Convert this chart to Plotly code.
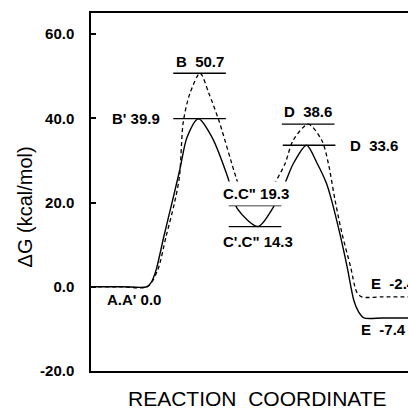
import plotly.graph_objects as go

# Reaction coordinate (arbitrary units 0-100) and free energy (kcal/mol)
unprimed_x = [0, 10, 17.8, 21.0, 23.7, 26.3, 27.9, 29.1, 31.2, 34.4, 37.2, 40.5, 45.7, 48.0,
              51.9, 55.8, 58.0, 61.2, 63.8, 68.5, 72.8, 74.9, 77.0, 79.1, 81.9, 83.8, 85.4, 92, 100]
unprimed_g = [0, 0, 0, 3.9, 12.0, 19.8, 26.1, 39.1, 45.9, 50.7, 45.9, 39.1, 26.1, 21.5,
              19.3, 21.5, 24.6, 29.2, 34.8, 38.6, 34.8, 29.2, 20.5, 12.9, 4.7, -1.2, -2.4, -2.4, -2.4]

primed_x = [0, 10, 17.6, 18.9, 20.5, 23.0, 25.6, 28.1, 30.3, 33.9, 38.1, 43.1, 46.1,
            52.7, 57.3, 61.2, 63.8, 68.0, 71.4, 74.3, 75.9, 78.5, 80.8, 82.9, 84.3, 86.1, 92, 100]
primed_g = [0, 0, 0, 0.9, 3.9, 12.0, 20.1, 28.1, 35.5, 39.9, 35.6, 26.1, 18.6,
            14.3, 18.6, 24.6, 29.2, 33.6, 29.2, 24.5, 20.5, 12.6, 4.7, -3.2, -5.8, -7.4, -7.4, -7.4]

# Stationary-point levels drawn as short horizontal bars
level_x = [34.25, 34.25, 51.75, 51.75, 68.5, 68.8]
level_g = [50.7, 39.9, 19.3, 14.3, 38.6, 33.6]
level_half = 8.3

# State labels
label_text = ["A.A' 0.0", "B  50.7", "B' 39.9", 'C.C" 19.3', "C'.C\" 14.3",
              "D  38.6", "D  33.6", "E  -2.4", "E  -7.4"]
label_x = [13.5, 34.25, 24.3, 52.1, 52.8, 68.3, 80.4, 87.0, 84.0]
label_g = [0.0, 50.7, 39.9, 19.3, 14.3, 38.6, 33.6, -2.4, -7.4]
label_anchor = ["center", "center", "right", "center", "center", "center", "left", "left", "left"]
label_shift = [-13, 12, 0, 12, -15, 13, 0, 13, -12]

y_ticks = [-20, 0, 20, 40, 60]

FONT = "Liberation Sans, Arial, Helvetica, sans-serif"

fig = go.Figure()

for lx, lg in zip(level_x, level_g):
    fig.add_trace(go.Scatter(x=[lx - level_half, lx + level_half], y=[lg, lg], mode="lines",
                             line=dict(color="black", width=1.3), hoverinfo="skip", showlegend=False))

fig.add_trace(go.Scatter(x=unprimed_x, y=unprimed_g, mode="lines",
                         line=dict(color="black", width=1.3, dash="4px,3px", shape="spline", smoothing=0.8),
                         showlegend=False))
fig.add_trace(go.Scatter(x=primed_x, y=primed_g, mode="lines",
                         line=dict(color="black", width=1.4, shape="spline", smoothing=0.8),
                         showlegend=False))

for t, x, g, a, s in zip(label_text, label_x, label_g, label_anchor, label_shift):
    fig.add_annotation(x=x, y=g, text=f"<b>{t}</b>", showarrow=False, xanchor=a, yanchor="middle",
                       yshift=s, xshift=(-4 if a == "right" else 0),
                       font=dict(family=FONT, size=15, color="black"),
                       bgcolor=("white" if t.startswith("C.C") else "rgba(0,0,0,0)"), borderpad=3)

fig.add_annotation(xref="paper", yref="paper", x=0.525, y=-0.077, text="REACTION  COORDINATE",
                   showarrow=False, xanchor="center", yanchor="middle",
                   font=dict(family=FONT, size=21, color="black"))
fig.add_annotation(xref="paper", yref="paper", x=-0.208, y=0.457, text="ΔG (kcal/mol)",
                   textangle=-90, showarrow=False, xanchor="center", yanchor="middle",
                   font=dict(family=FONT, size=20, color="black"))

fig.update_layout(
    width=408, height=409,
    margin=dict(l=91, r=0, t=13, b=38),
    paper_bgcolor="white", plot_bgcolor="white",
    xaxis=dict(range=[0, 100], showline=True, linecolor="black", linewidth=1.5, mirror=True,
               showticklabels=False, ticks="", showgrid=False, zeroline=False),
    yaxis=dict(range=[-20, 65], showline=True, linecolor="black", linewidth=1.5,
               tickmode="array", tickvals=y_ticks, ticktext=[f"<b>{v:.1f}</b>" for v in y_ticks],
               ticks="inside", ticklen=5, tickwidth=1.5, tickcolor="black",
               ticklabelstandoff=12, showgrid=False, zeroline=False,
               tickfont=dict(family=FONT, size=15, color="black")),
)

fig.write_html("out.html", config={"displayModeBar": False},
               post_script="document.body.style.margin='0';document.body.style.overflow='hidden';")
